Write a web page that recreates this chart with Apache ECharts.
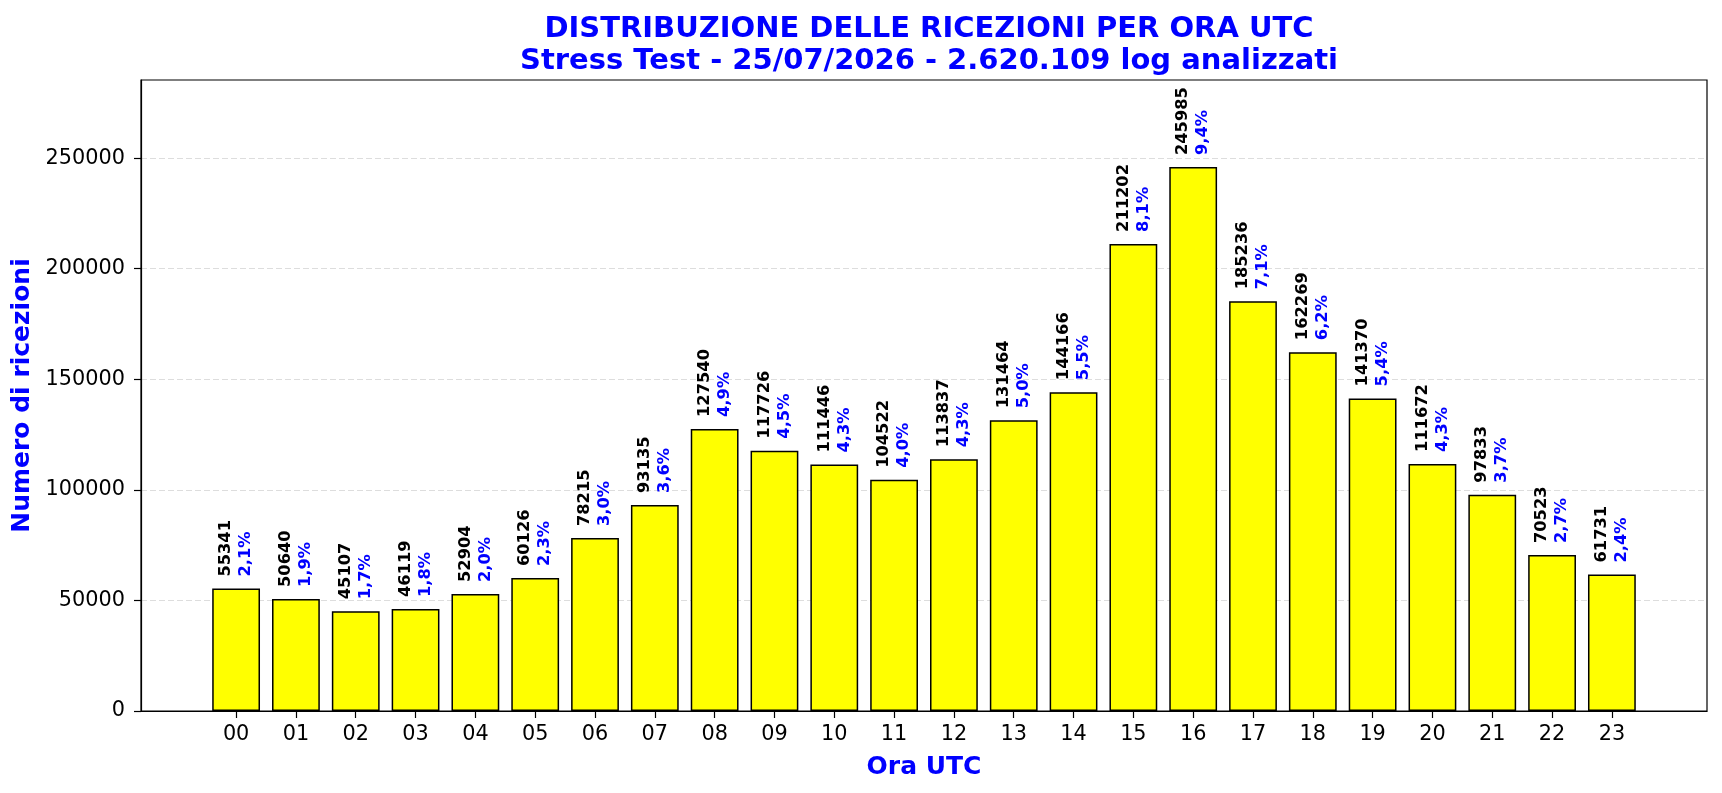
<!DOCTYPE html>
<html>
<head>
<meta charset="utf-8">
<script src="https://cdn.jsdelivr.net/npm/echarts@6/dist/echarts.min.js"></script>
<style>
html,body{margin:0;padding:0;background:#fff;}
#chart{width:1722px;height:793px;}
</style>
</head>
<body>
<div id="chart"></div>
<script>
// ore UTC e ricezioni
var hours = ['00','01','02','03','04','05','06','07','08','09','10','11',
             '12','13','14','15','16','17','18','19','20','21','22','23'];
var counts = [55341, 50640, 45107, 46119, 52904, 60126, 78215, 93135, 127540, 117726, 111446, 104522,
              113837, 131464, 144166, 211202, 245985, 185236, 162269, 141370, 111672, 97833, 70523, 61731];
var percents = ['2,1%','1,9%','1,7%','1,8%','2,0%','2,3%','3,0%','3,6%','4,9%','4,5%','4,3%','4,0%',
                '4,3%','5,0%','5,5%','8,1%','9,4%','7,1%','6,2%','5,4%','4,3%','3,7%','2,7%','2,4%'];
var yTicks = [0, 50000, 100000, 150000, 200000, 250000];

var font = 'DejaVu Sans';
var blue = '#0000FF';

var xPos = hours.map(function (h, i) { return i; });
var barData = counts.map(function (c, i) { return [i, c]; });

var chart = echarts.init(document.getElementById('chart'));

var option = {
    animation: false,
    backgroundColor: '#fff',
    title: {
        text: 'DISTRIBUZIONE DELLE RICEZIONI PER ORA UTC\nStress Test - 25/07/2026 - 2.620.109 log analizzati',
        left: 924,
        top: 8,
        textAlign: 'center',
        textStyle: {
            fontFamily: font,
            fontWeight: 'bold',
            fontSize: 29,
            lineHeight: 32,
            color: blue
        }
    },
    grid: {
        left: 141,
        right: 15,
        top: 80,
        bottom: 82,
        show: true,
        borderColor: '#000',
        borderWidth: 1.2,
        backgroundColor: 'transparent'
    },
    xAxis: {
        type: 'value',
        min: -1.59,
        max: 24.59,
        name: 'Ora UTC',
        nameLocation: 'middle',
        nameGap: 44,
        nameTextStyle: {fontFamily: font, fontWeight: 'bold', fontSize: 25, color: blue},
        axisLine: {show: true, onZero: false, lineStyle: {color: '#000', width: 1.2}},
        axisTick: {show: true, length: 7, customValues: xPos, lineStyle: {color: '#000', width: 1.2}},
        axisLabel: {
            customValues: xPos,
            margin: 13,
            fontFamily: font,
            fontSize: 20.8,
            color: '#000',
            formatter: function (v) { return hours[Math.round(v)]; }
        },
        splitLine: {show: false}
    },
    yAxis: {
        type: 'value',
        min: 0,
        max: 285343,
        name: 'Numero di ricezioni',
        nameLocation: 'middle',
        nameRotate: 90,
        nameGap: 96,
        nameTextStyle: {fontFamily: font, fontWeight: 'bold', fontSize: 25, color: blue},
        axisLine: {show: true, onZero: false, lineStyle: {color: '#000', width: 1.2}},
        axisTick: {show: true, length: 7, customValues: yTicks, lineStyle: {color: '#000', width: 1.2}},
        axisLabel: {
            customValues: yTicks,
            margin: 16,
            padding: [4, 0, 0, 0],
            fontFamily: font,
            fontSize: 20.8,
            color: '#000',
            formatter: function (v) { return String(v); }
        },
        splitLine: {show: true, lineStyle: {color: '#dddddd', type: [6, 3], width: 1.1}}
    },
    series: [{
        type: 'bar',
        data: barData,
        barWidth: 47.8,
        itemStyle: {color: '#FFFF00', borderColor: '#000', borderWidth: 1.5},
        label: {
            show: true,
            position: 'top',
            distance: 12,
            rotate: 90,
            align: 'left',
            verticalAlign: 'middle',
            fontFamily: font,
            formatter: function (p) {
                return '{v|' + counts[p.dataIndex] + '}\n{p|' + percents[p.dataIndex] + '}';
            },
            rich: {
                v: {fontFamily: font, fontWeight: 'bold', fontSize: 16.3, color: '#000', lineHeight: 20},
                p: {fontFamily: font, fontWeight: 'bold', fontSize: 16.3, color: blue, lineHeight: 20}
            }
        }
    }]
};

chart.setOption(option);
</script>
</body>
</html>
